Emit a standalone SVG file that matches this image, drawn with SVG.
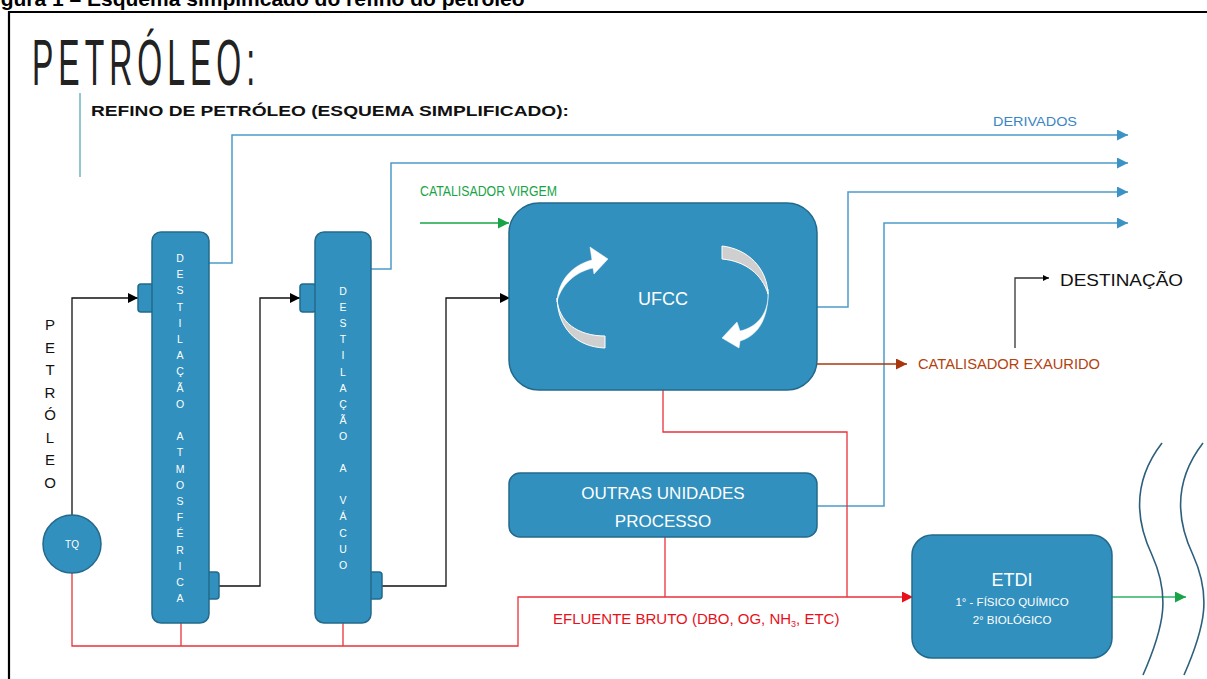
<svg xmlns="http://www.w3.org/2000/svg" width="1207" height="679" viewBox="0 0 1207 679">
<style>
.node{fill:#3190be;stroke:#23698c;stroke-width:1.5}
.wt{fill:#ffffff;font-family:"Liberation Sans",Arial,sans-serif}
.blue{fill:none;stroke:#4b9cc8;stroke-width:1.5}
.blk{fill:none;stroke:#111;stroke-width:1.3}
.red{fill:none;stroke:#e8323a;stroke-width:1.3}
.lbl{font-family:"Liberation Sans",Arial,sans-serif}
</style>
<defs>
<marker id="mBlue" viewBox="0 0 10 10" refX="10" refY="5" markerWidth="13" markerHeight="11" markerUnits="userSpaceOnUse" orient="auto"><path d="M0,0 L10,5 L0,10 Z" fill="#3a93c4"/></marker>
<marker id="mBlk" viewBox="0 0 10 10" refX="10" refY="5" markerWidth="12" markerHeight="10" markerUnits="userSpaceOnUse" orient="auto"><path d="M0,0 L10,5 L0,10 Z" fill="#000"/></marker>
<marker id="mBlkS" viewBox="0 0 10 10" refX="10" refY="5" markerWidth="7" markerHeight="6" markerUnits="userSpaceOnUse" orient="auto"><path d="M0,0 L10,5 L0,10 Z" fill="#000"/></marker>
<marker id="mGreen" viewBox="0 0 10 10" refX="10" refY="5" markerWidth="12" markerHeight="11" markerUnits="userSpaceOnUse" orient="auto"><path d="M0,0 L10,5 L0,10 Z" fill="#17a447"/></marker>
<marker id="mRed" viewBox="0 0 10 10" refX="10" refY="5" markerWidth="12" markerHeight="11" markerUnits="userSpaceOnUse" orient="auto"><path d="M0,0 L10,5 L0,10 Z" fill="#e8101a"/></marker>
<marker id="mBrown" viewBox="0 0 10 10" refX="10" refY="5" markerWidth="12" markerHeight="11" markerUnits="userSpaceOnUse" orient="auto"><path d="M0,0 L10,5 L0,10 Z" fill="#a8380c"/></marker>
</defs>
<rect width="1207" height="679" fill="#ffffff"/>
<!-- caption (cut) -->
<text x="-18" y="6" class="lbl" font-size="21" font-weight="bold" fill="#000">Figura 1 – Esquema simplificado do refino do petróleo</text>
<!-- frame -->
<path d="M9,679 V12 H1207" fill="none" stroke="#000" stroke-width="2.2"/>
<!-- title -->
<text transform="translate(32,85) scale(0.5,1)" x="0" y="0" class="lbl" font-size="64" fill="#222" letter-spacing="10">PETRÓLEO:</text>
<line x1="80" y1="93" x2="80" y2="177" stroke="#6fb5bf" stroke-width="1.5"/>
<text x="91" y="116" class="lbl" font-size="15" font-weight="bold" fill="#111" textLength="478" lengthAdjust="spacingAndGlyphs">REFINO DE PETRÓLEO (ESQUEMA SIMPLIFICADO):</text>

<g id="connectors">
  <path class="blue" d="M209,263 H232 V135 H1128" marker-end="url(#mBlue)"/>
  <path class="blue" d="M371,269 H391 V163 H1128" marker-end="url(#mBlue)"/>
  <path class="blue" d="M817,307 H848 V192 H1128" marker-end="url(#mBlue)"/>
  <path class="blue" d="M817,506 H884 V223 H1128" marker-end="url(#mBlue)"/>
  <path class="blk" d="M72,515 V298 H138" marker-end="url(#mBlk)"/>
  <path class="blk" d="M219,586 H260 V298 H300" marker-end="url(#mBlk)"/>
  <path class="blk" d="M382,586 H446 V298 H510" marker-end="url(#mBlk)"/>
  <path d="M420,223 H509" fill="none" stroke="#17a447" stroke-width="1.3" marker-end="url(#mGreen)"/>
  <path d="M817,364 H907" fill="none" stroke="#a8380c" stroke-width="1.3" marker-end="url(#mBrown)"/>
  <path d="M1015,348 V278 H1049" fill="none" stroke="#333" stroke-width="1.3" marker-end="url(#mBlkS)"/>
  <path class="red" d="M72,573 V646 H518 V597 H913" marker-end="url(#mRed)"/>
  <path class="red" d="M181,623 V646"/>
  <path class="red" d="M343,623 V646"/>
  <path class="red" d="M665,537 V597"/>
  <path class="red" d="M663,390 V432 H847 V597"/>
  <path d="M1095,597 H1186" fill="none" stroke="#2bb36b" stroke-width="1.3" marker-end="url(#mGreen)"/>
</g>

<g id="tq">
  <circle cx="72" cy="544" r="29" class="node"/>
  <text x="72" y="548" class="wt" font-size="10" text-anchor="middle">TQ</text>
</g>
<g id="petroleo-label">
  <text x="50" y="330" class="lbl" font-size="15" fill="#111" text-anchor="middle">P<tspan x="50" dy="22.5">E</tspan><tspan x="50" dy="22.5">T</tspan><tspan x="50" dy="22.5">R</tspan><tspan x="50" dy="22.5">Ó</tspan><tspan x="50" dy="22.5">L</tspan><tspan x="50" dy="22.5">E</tspan><tspan x="50" dy="22.5">O</tspan></text>
</g>

<g id="dest-atm">
  <rect x="138" y="284" width="16" height="28" rx="3" class="node"/>
  <rect x="204" y="572" width="15" height="27" rx="3" class="node"/>
  <rect x="152" y="232" width="57" height="391" rx="9" class="node"/>
  <text x="180" y="262" class="wt" font-size="10.5" text-anchor="middle">D<tspan x="180" dy="16.2">E</tspan><tspan x="180" dy="16.2">S</tspan><tspan x="180" dy="16.2">T</tspan><tspan x="180" dy="16.2">I</tspan><tspan x="180" dy="16.2">L</tspan><tspan x="180" dy="16.2">A</tspan><tspan x="180" dy="16.2">Ç</tspan><tspan x="180" dy="16.2">Ã</tspan><tspan x="180" dy="16.2">O</tspan><tspan x="180" dy="32.4">A</tspan><tspan x="180" dy="16.2">T</tspan><tspan x="180" dy="16.2">M</tspan><tspan x="180" dy="16.2">O</tspan><tspan x="180" dy="16.2">S</tspan><tspan x="180" dy="16.2">F</tspan><tspan x="180" dy="16.2">É</tspan><tspan x="180" dy="16.2">R</tspan><tspan x="180" dy="16.2">I</tspan><tspan x="180" dy="16.2">C</tspan><tspan x="180" dy="16.2">A</tspan></text>
</g>

<g id="dest-vac">
  <rect x="300" y="284" width="16" height="28" rx="3" class="node"/>
  <rect x="367" y="572" width="15" height="27" rx="3" class="node"/>
  <rect x="315" y="232" width="56" height="391" rx="9" class="node"/>
  <text x="343" y="295" class="wt" font-size="10.5" text-anchor="middle">D<tspan x="343" dy="16.1">E</tspan><tspan x="343" dy="16.1">S</tspan><tspan x="343" dy="16.1">T</tspan><tspan x="343" dy="16.1">I</tspan><tspan x="343" dy="16.1">L</tspan><tspan x="343" dy="16.1">A</tspan><tspan x="343" dy="16.1">Ç</tspan><tspan x="343" dy="16.1">Ã</tspan><tspan x="343" dy="16.1">O</tspan><tspan x="343" dy="32.2">A</tspan><tspan x="343" dy="32.2">V</tspan><tspan x="343" dy="16.1">Á</tspan><tspan x="343" dy="16.1">C</tspan><tspan x="343" dy="16.1">U</tspan><tspan x="343" dy="16.1">O</tspan></text>
</g>

<g id="ufcc">
  <rect x="509" y="203" width="308" height="187" rx="30" class="node"/>
  <path d="M557,302 C558,281 572,265 592,260 L590,247 L608,259 L594,274 L593,268 C575,272 561,285 557,302 Z" fill="#fff" stroke="#fff" stroke-width="0.5"/>
  <path d="M557,298 C558,322 578,336 605,336 L605,348 C576,347 558,328 557,298 Z" fill="#cfcfcf" stroke="#fff" stroke-width="1"/>
  <path d="M722,246 C748,249 767,268 768,294 C762,274 745,261 722,259 Z" fill="#cfcfcf" stroke="#fff" stroke-width="1"/>
  <path d="M768,289 C770,312 758,327 740,331 L737,322 L722,338 L739,348 L740,341 C761,335 769,314 768,289 Z" fill="#fff" stroke="#fff" stroke-width="0.5"/>
  <text x="663" y="305" class="wt" font-size="18" text-anchor="middle">UFCC</text>
</g>

<g id="outras">
  <rect x="509" y="473" width="308" height="64" rx="11" class="node"/>
  <text x="663" y="499" class="wt" font-size="17" text-anchor="middle">OUTRAS UNIDADES</text>
  <text x="663" y="527" class="wt" font-size="17" text-anchor="middle">PROCESSO</text>
</g>

<g id="etdi">
  <rect x="912" y="535" width="200" height="123" rx="20" class="node"/>
  <text x="1012" y="586" class="wt" font-size="18" text-anchor="middle">ETDI</text>
  <text x="1012" y="606" class="wt" font-size="11.5" text-anchor="middle">1° - FÍSICO QUÍMICO</text>
  <text x="1012" y="624" class="wt" font-size="11.5" text-anchor="middle">2° BIOLÓGICO</text>
</g>

<g id="corpo-receptor">
  <path d="M1162,443 C1135,478 1133,515 1152,555 C1170,595 1165,625 1143,675" fill="none" stroke="#2d5f7c" stroke-width="1.6"/>
  <path d="M1203,443 C1176,478 1174,515 1193,555 C1211,595 1206,625 1184,675" fill="none" stroke="#2d5f7c" stroke-width="1.6"/>
</g>

<g id="labels">
  <text x="993" y="126" class="lbl" font-size="13" fill="#3a86c4" textLength="84" lengthAdjust="spacingAndGlyphs">DERIVADOS</text>
  <text x="420" y="196" class="lbl" font-size="14" fill="#17a447" textLength="137" lengthAdjust="spacingAndGlyphs">CATALISADOR VIRGEM</text>
  <text x="918" y="369" class="lbl" font-size="14" fill="#b4420f" textLength="182" lengthAdjust="spacingAndGlyphs">CATALISADOR EXAURIDO</text>
  <text x="1060" y="286" class="lbl" font-size="17" fill="#111" textLength="123" lengthAdjust="spacingAndGlyphs">DESTINAÇÃO</text>
  <text x="553" y="624" class="lbl" font-size="15" fill="#e8101a">EFLUENTE BRUTO (DBO, OG, NH<tspan font-size="9" dy="3">3</tspan><tspan dy="-3">, ETC)</tspan></text>
</g>
</svg>
